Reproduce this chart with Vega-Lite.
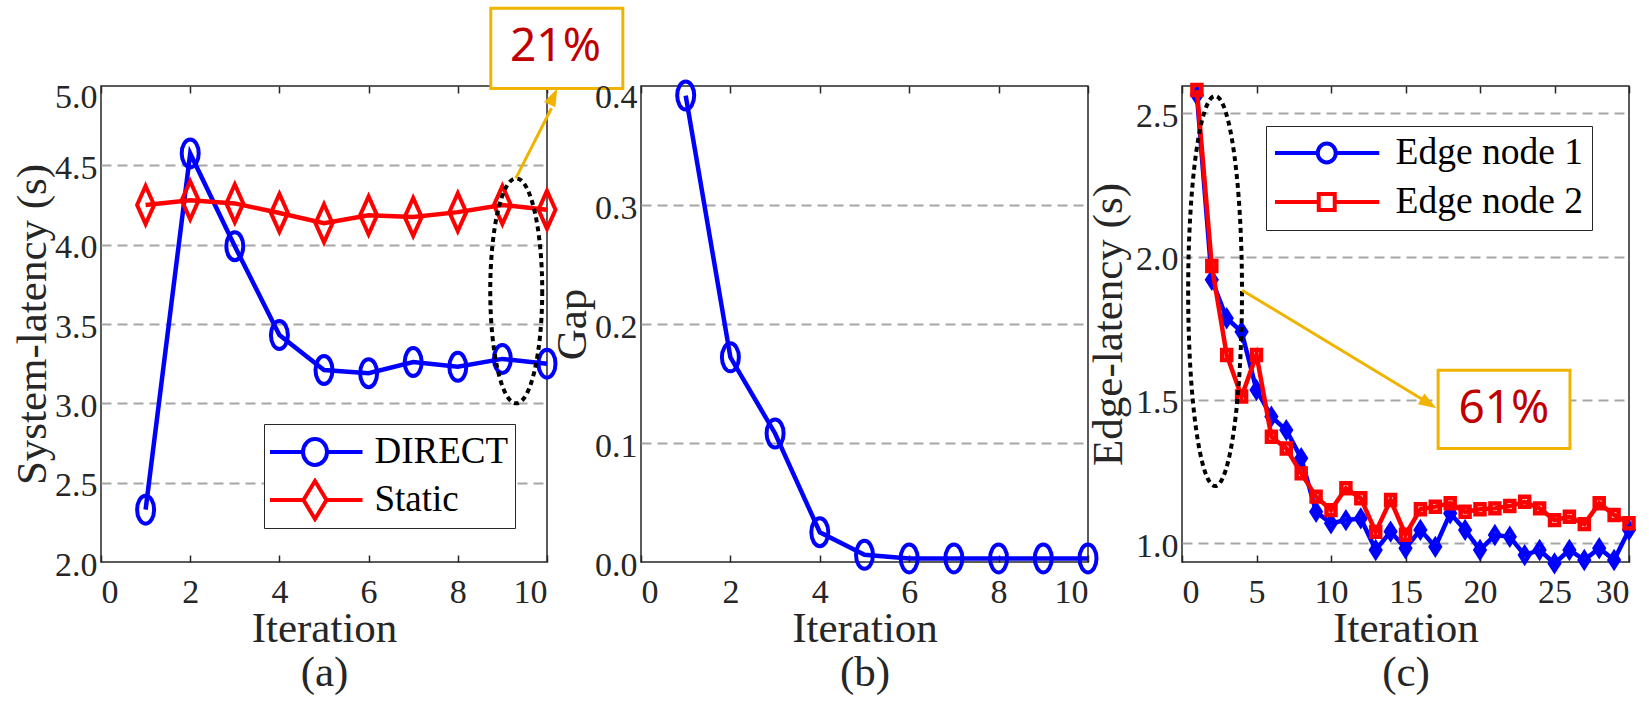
{
  "$schema": "https://vega.github.io/schema/vega-lite/v6.json",
  "background": "#FFFFFF",
  "padding": {"left": 10, "top": 6, "right": 5, "bottom": 5},
  "bounds": "flush",
  "spacing": 94,
  "resolve": {"scale": {"color": "independent"}, "legend": {"color": "independent"}},
  "datasets": {
    "sys": [
      {"iter": 1, "value": 2.33, "series": "DIRECT"},
      {"iter": 2, "value": 4.575, "series": "DIRECT"},
      {"iter": 3, "value": 3.99, "series": "DIRECT"},
      {"iter": 4, "value": 3.43, "series": "DIRECT"},
      {"iter": 5, "value": 3.21, "series": "DIRECT"},
      {"iter": 6, "value": 3.19, "series": "DIRECT"},
      {"iter": 7, "value": 3.26, "series": "DIRECT"},
      {"iter": 8, "value": 3.23, "series": "DIRECT"},
      {"iter": 9, "value": 3.28, "series": "DIRECT"},
      {"iter": 10, "value": 3.25, "series": "DIRECT"},
      {"iter": 1, "value": 4.25, "series": "Static"},
      {"iter": 2, "value": 4.28, "series": "Static"},
      {"iter": 3, "value": 4.26, "series": "Static"},
      {"iter": 4, "value": 4.2, "series": "Static"},
      {"iter": 5, "value": 4.135, "series": "Static"},
      {"iter": 6, "value": 4.185, "series": "Static"},
      {"iter": 7, "value": 4.175, "series": "Static"},
      {"iter": 8, "value": 4.205, "series": "Static"},
      {"iter": 9, "value": 4.25, "series": "Static"},
      {"iter": 10, "value": 4.22, "series": "Static"}
    ],
    "gap": [
      {"iter": 1, "value": 0.392},
      {"iter": 2, "value": 0.172},
      {"iter": 3, "value": 0.108},
      {"iter": 4, "value": 0.025},
      {"iter": 5, "value": 0.006},
      {"iter": 6, "value": 0.003},
      {"iter": 7, "value": 0.003},
      {"iter": 8, "value": 0.003},
      {"iter": 9, "value": 0.003},
      {"iter": 10, "value": 0.003}
    ],
    "edge": [
      {"iter": 1, "value": 2.564, "series": "Edge node 1"},
      {"iter": 2, "value": 1.919, "series": "Edge node 1"},
      {"iter": 3, "value": 1.785, "series": "Edge node 1"},
      {"iter": 4, "value": 1.738, "series": "Edge node 1"},
      {"iter": 5, "value": 1.535, "series": "Edge node 1"},
      {"iter": 6, "value": 1.442, "series": "Edge node 1"},
      {"iter": 7, "value": 1.395, "series": "Edge node 1"},
      {"iter": 8, "value": 1.297, "series": "Edge node 1"},
      {"iter": 9, "value": 1.11, "series": "Edge node 1"},
      {"iter": 10, "value": 1.07, "series": "Edge node 1"},
      {"iter": 11, "value": 1.081, "series": "Edge node 1"},
      {"iter": 12, "value": 1.087, "series": "Edge node 1"},
      {"iter": 13, "value": 0.977, "series": "Edge node 1"},
      {"iter": 14, "value": 1.041, "series": "Edge node 1"},
      {"iter": 15, "value": 0.983, "series": "Edge node 1"},
      {"iter": 16, "value": 1.047, "series": "Edge node 1"},
      {"iter": 17, "value": 0.988, "series": "Edge node 1"},
      {"iter": 18, "value": 1.105, "series": "Edge node 1"},
      {"iter": 19, "value": 1.047, "series": "Edge node 1"},
      {"iter": 20, "value": 0.977, "series": "Edge node 1"},
      {"iter": 21, "value": 1.029, "series": "Edge node 1"},
      {"iter": 22, "value": 1.023, "series": "Edge node 1"},
      {"iter": 23, "value": 0.959, "series": "Edge node 1"},
      {"iter": 24, "value": 0.977, "series": "Edge node 1"},
      {"iter": 25, "value": 0.93, "series": "Edge node 1"},
      {"iter": 26, "value": 0.977, "series": "Edge node 1"},
      {"iter": 27, "value": 0.942, "series": "Edge node 1"},
      {"iter": 28, "value": 0.983, "series": "Edge node 1"},
      {"iter": 29, "value": 0.942, "series": "Edge node 1"},
      {"iter": 30, "value": 1.047, "series": "Edge node 1"},
      {"iter": 1, "value": 2.581, "series": "Edge node 2"},
      {"iter": 2, "value": 1.967, "series": "Edge node 2"},
      {"iter": 3, "value": 1.657, "series": "Edge node 2"},
      {"iter": 4, "value": 1.512, "series": "Edge node 2"},
      {"iter": 5, "value": 1.657, "series": "Edge node 2"},
      {"iter": 6, "value": 1.372, "series": "Edge node 2"},
      {"iter": 7, "value": 1.331, "series": "Edge node 2"},
      {"iter": 8, "value": 1.244, "series": "Edge node 2"},
      {"iter": 9, "value": 1.163, "series": "Edge node 2"},
      {"iter": 10, "value": 1.116, "series": "Edge node 2"},
      {"iter": 11, "value": 1.192, "series": "Edge node 2"},
      {"iter": 12, "value": 1.157, "series": "Edge node 2"},
      {"iter": 13, "value": 1.04, "series": "Edge node 2"},
      {"iter": 14, "value": 1.151, "series": "Edge node 2"},
      {"iter": 15, "value": 1.03, "series": "Edge node 2"},
      {"iter": 16, "value": 1.119, "series": "Edge node 2"},
      {"iter": 17, "value": 1.128, "series": "Edge node 2"},
      {"iter": 18, "value": 1.14, "series": "Edge node 2"},
      {"iter": 19, "value": 1.11, "series": "Edge node 2"},
      {"iter": 20, "value": 1.119, "series": "Edge node 2"},
      {"iter": 21, "value": 1.122, "series": "Edge node 2"},
      {"iter": 22, "value": 1.13, "series": "Edge node 2"},
      {"iter": 23, "value": 1.145, "series": "Edge node 2"},
      {"iter": 24, "value": 1.122, "series": "Edge node 2"},
      {"iter": 25, "value": 1.081, "series": "Edge node 2"},
      {"iter": 26, "value": 1.093, "series": "Edge node 2"},
      {"iter": 27, "value": 1.067, "series": "Edge node 2"},
      {"iter": 28, "value": 1.14, "series": "Edge node 2"},
      {"iter": 29, "value": 1.099, "series": "Edge node 2"},
      {"iter": 30, "value": 1.07, "series": "Edge node 2"}
    ]
  },
  "hconcat": [
    {
      "width": 446,
      "height": 476,
      "resolve": {"axis": {"x": "independent"}},
      "layer": [
        {
          "data": {"name": "sys"},
          "transform": [{"filter": "datum.series == 'DIRECT'"}],
          "mark": {"type": "line", "strokeWidth": 4.5},
          "encoding": {
            "x": {"field": "iter", "type": "quantitative", "scale": {"domain": [0, 10], "nice": false},
              "axis": {"orient": "bottom", "values": [0, 2, 4, 6, 8, 10], "title": ["Iteration", "(a)"]}},
            "y": {"field": "value", "type": "quantitative", "scale": {"domain": [2, 5], "nice": false, "zero": false},
              "axis": {"values": [2, 2.5, 3, 3.5, 4, 4.5, 5], "format": ".1f", "title": "System-latency (s)", "titlePadding": 0,
                "gridOpacity": {"condition": {"test": "datum.value == 2 || datum.value == 5", "value": 0}, "value": 1},
                "labelOffset": {"condition": {"test": "datum.value == 5", "value": 11}, "value": 3}}},
            "color": {"field": "series", "type": "nominal",
              "scale": {"domain": ["DIRECT", "Static"], "range": ["#0000FF", "#FF0000"]},
              "legend": {
                "orient": "none", "legendX": 163, "legendY": 338, "title": null,
                "labelFont": "Liberation Serif", "labelFontSize": 37, "labelColor": "#000000", "labelLimit": 0,
                "symbolSize": 900, "symbolStrokeWidth": 4, "symbolOffset": 26.5, "labelOffset": 41,
                "clipHeight": 44, "padding": 6, "rowPadding": 4, "strokeColor": "#262626", "fillColor": "#FFFFFF",
                "labelExpr": "datum.label == 'Static' ? '\u00a0\u00a0Static' : datum.label",
                "encode": {"symbols": {"update": {
                  "shape": {"signal": "datum.value == 'DIRECT' ? 'M-3.167,0 L-0.8,0 M0.8,0 L3.167,0 M0.8,0 C0.8,0.479 0.442,0.867 0,0.867 C-0.442,0.867 -0.8,0.479 -0.8,0 C-0.8,-0.479 -0.442,-0.867 0,-0.867 C0.442,-0.867 0.8,-0.479 0.8,0 Z' : 'M-3.167,0 L-0.767,0 M0.767,0 L3.167,0 M0,-1.267 L0.767,0 L0,1.267 L-0.767,0 Z'"},
                  "fill": {"value": "transparent"},
                  "stroke": {"signal": "datum.value == 'DIRECT' ? '#0000FF' : '#FF0000'"},
                  "strokeWidth": {"value": 4}}}}
              }}
          }
        },
        {
          "data": {"name": "sys"},
          "transform": [{"filter": "datum.series == 'DIRECT'"}],
          "mark": {"type": "point", "shape": "M0.447,0 C0.447,0.407 0.247,0.737 0,0.737 C-0.247,0.737 -0.447,0.407 -0.447,0 C-0.447,-0.407 -0.247,-0.737 0,-0.737 C0.247,-0.737 0.447,-0.407 0.447,0 Z", "size": 1444, "filled": false, "strokeWidth": 4, "opacity": 1, "color": "#0000FF"},
          "encoding": {
            "x": {"field": "iter", "type": "quantitative", "scale": {"domain": [0, 10], "nice": false}, "axis": null},
            "y": {"field": "value", "type": "quantitative", "scale": {"domain": [2, 5], "nice": false, "zero": false}}
          }
        },
        {
          "data": {"name": "sys"},
          "transform": [{"filter": "datum.series == 'Static'"}],
          "mark": {"type": "line", "strokeWidth": 4.5, "color": "#FF0000"},
          "encoding": {
            "x": {"field": "iter", "type": "quantitative", "scale": {"domain": [0, 10], "nice": false}, "axis": null},
            "y": {"field": "value", "type": "quantitative", "scale": {"domain": [2, 5], "nice": false, "zero": false}}
          }
        },
        {
          "data": {"name": "sys"},
          "transform": [{"filter": "datum.series == 'Static'"}],
          "mark": {"type": "point", "shape": "M0,-1 L0.447,0 L0,1 L-0.447,0 Z", "size": 1444, "filled": false, "strokeWidth": 4, "opacity": 1, "color": "#FF0000"},
          "encoding": {
            "x": {"field": "iter", "type": "quantitative", "scale": {"domain": [0, 10], "nice": false}, "axis": null},
            "y": {"field": "value", "type": "quantitative", "scale": {"domain": [2, 5], "nice": false, "zero": false}}
          }
        },
        {
          "data": {"name": "sys"},
          "mark": {"type": "point", "opacity": 0},
          "encoding": {
            "x": {"field": "iter", "type": "quantitative", "scale": {"domain": [0, 10], "nice": false},
              "axis": {"orient": "top", "values": [0, 2, 4, 6, 8, 10], "labels": false, "title": null}},
            "y": {"field": "value", "type": "quantitative", "scale": {"domain": [2, 5], "nice": false, "zero": false}}
          }
        },
        {
          "data": {"values": [{}]},
          "mark": {"type": "point", "shape": "M0.231,0 C0.231,0.552 0.128,1 0,1 C-0.128,1 -0.231,0.552 -0.231,0 C-0.231,-0.552 -0.128,-1 0,-1 C0.128,-1 0.231,-0.552 0.231,0 Z", "size": 50625, "filled": false, "stroke": "#000000", "strokeWidth": 4, "strokeDash": [5, 4], "opacity": 1},
          "encoding": {
            "x": {"datum": 9.31, "type": "quantitative", "scale": {"domain": [0, 10], "nice": false}, "axis": null},
            "y": {"datum": 3.709, "type": "quantitative", "scale": {"domain": [2, 5], "nice": false, "zero": false}}
          }
        },
        {
          "data": {"values": [{}]},
          "mark": {"type": "rule", "stroke": "#F0B400", "strokeWidth": 3},
          "encoding": {
            "x": {"datum": 9.3, "type": "quantitative", "scale": {"domain": [0, 10], "nice": false}, "axis": null},
            "y": {"datum": 4.418, "type": "quantitative", "scale": {"domain": [2, 5], "nice": false, "zero": false}},
            "x2": {"datum": 10.1},
            "y2": {"datum": 4.86}
          }
        },
        {
          "data": {"values": [{}]},
          "mark": {"type": "point", "shape": "M0,0 L-2,-0.7 L-2,0.7 Z", "size": 324, "filled": true, "color": "#F0B400", "strokeWidth": 0, "opacity": 1, "angle": -65.2},
          "encoding": {
            "x": {"datum": 10.23, "type": "quantitative", "scale": {"domain": [0, 10], "nice": false}, "axis": null},
            "y": {"datum": 4.985, "type": "quantitative", "scale": {"domain": [2, 5], "nice": false, "zero": false}}
          }
        },
        {
          "data": {"values": [{}]},
          "mark": {"type": "rect", "fill": "#FFFFFF", "stroke": "#F0B400", "strokeWidth": 3},
          "encoding": {
            "x": {"datum": 8.74, "type": "quantitative", "scale": {"domain": [0, 10], "nice": false}, "axis": null},
            "x2": {"datum": 11.7},
            "y": {"datum": 5.49, "type": "quantitative", "scale": {"domain": [2, 5], "nice": false, "zero": false}},
            "y2": {"datum": 4.985}
          }
        },
        {
          "data": {"values": [{}]},
          "mark": {"type": "text", "text": "21%", "font": "Noto Sans", "fontSize": 46, "color": "#C00000", "align": "center", "baseline": "middle"},
          "encoding": {
            "x": {"datum": 10.19, "type": "quantitative", "scale": {"domain": [0, 10], "nice": false}, "axis": null},
            "y": {"datum": 5.248, "type": "quantitative", "scale": {"domain": [2, 5], "nice": false, "zero": false}}
          }
        }
      ]
    },
    {
      "width": 447,
      "height": 476,
      "resolve": {"axis": {"x": "independent"}},
      "layer": [
        {
          "data": {"name": "gap"},
          "mark": {"type": "line", "strokeWidth": 4.5, "color": "#0000FF"},
          "encoding": {
            "x": {"field": "iter", "type": "quantitative", "scale": {"domain": [0, 10], "nice": false},
              "axis": {"orient": "bottom", "values": [0, 2, 4, 6, 8, 10], "title": ["Iteration", "(b)"]}},
            "y": {"field": "value", "type": "quantitative", "scale": {"domain": [0, 0.4], "nice": false},
              "axis": {"values": [0, 0.1, 0.2, 0.3, 0.4], "format": ".1f", "title": "Gap", "titlePadding": 0,
                "gridOpacity": {"condition": {"test": "datum.value == 0 || datum.value == 0.4", "value": 0}, "value": 1},
                "labelOffset": {"condition": {"test": "datum.value == 0.4", "value": 11}, "value": 3}}}
          }
        },
        {
          "data": {"name": "gap"},
          "mark": {"type": "point", "shape": "M0.447,0 C0.447,0.407 0.247,0.737 0,0.737 C-0.247,0.737 -0.447,0.407 -0.447,0 C-0.447,-0.407 -0.247,-0.737 0,-0.737 C0.247,-0.737 0.447,-0.407 0.447,0 Z", "size": 1444, "filled": false, "strokeWidth": 4, "opacity": 1, "color": "#0000FF"},
          "encoding": {
            "x": {"field": "iter", "type": "quantitative", "scale": {"domain": [0, 10], "nice": false}, "axis": null},
            "y": {"field": "value", "type": "quantitative", "scale": {"domain": [0, 0.4], "nice": false}}
          }
        },
        {
          "data": {"name": "gap"},
          "mark": {"type": "point", "opacity": 0},
          "encoding": {
            "x": {"field": "iter", "type": "quantitative", "scale": {"domain": [0, 10], "nice": false},
              "axis": {"orient": "top", "values": [0, 2, 4, 6, 8, 10], "labels": false, "title": null}},
            "y": {"field": "value", "type": "quantitative", "scale": {"domain": [0, 0.4], "nice": false}}
          }
        }
      ]
    },
    {
      "width": 447,
      "height": 476,
      "resolve": {"axis": {"x": "independent"}},
      "layer": [
        {
          "data": {"name": "edge"},
          "transform": [{"filter": "datum.series == 'Edge node 1'"}],
          "mark": {"type": "line", "strokeWidth": 4.5},
          "encoding": {
            "x": {"field": "iter", "type": "quantitative", "scale": {"domain": [0, 30], "nice": false},
              "axis": {"orient": "bottom", "values": [0, 5, 10, 15, 20, 25, 30], "title": ["Iteration", "(c)"]}},
            "y": {"field": "value", "type": "quantitative", "scale": {"domain": [0.935, 2.595], "nice": false, "zero": false},
              "axis": {"values": [1, 1.5, 2, 2.5], "format": ".1f", "title": "Edge-latency (s)", "titlePadding": 5, "labelOffset": 3}},
            "color": {"field": "series", "type": "nominal",
              "scale": {"domain": ["Edge node 1", "Edge node 2"], "range": ["#0000FF", "#FF0000"]},
              "legend": {
                "orient": "none", "legendX": 84, "legendY": 40, "title": null,
                "labelFont": "Liberation Serif", "labelFontSize": 37.5, "labelColor": "#000000", "labelLimit": 0,
                "symbolSize": 900, "symbolStrokeWidth": 4, "symbolOffset": 33, "labelOffset": 50,
                "clipHeight": 36, "padding": 9, "rowPadding": 11, "strokeColor": "#262626", "fillColor": "#FFFFFF",
                "encode": {"symbols": {"update": {
                  "shape": {"signal": "datum.value == 'Edge node 1' ? 'M-3.5,0 L-0.6,0 M0.6,0 L3.5,0 M0.6,0 C0.6,0.35 0.331,0.633 0,0.633 C-0.331,0.633 -0.6,0.35 -0.6,0 C-0.6,-0.35 -0.331,-0.633 0,-0.633 C0.331,-0.633 0.6,-0.35 0.6,0 Z' : 'M-3.5,0 L-0.533,0 M0.533,0 L3.5,0 M-0.533,-0.533 L0.533,-0.533 L0.533,0.533 L-0.533,0.533 Z'"},
                  "fill": {"value": "transparent"},
                  "stroke": {"signal": "datum.value == 'Edge node 1' ? '#0000FF' : '#FF0000'"},
                  "strokeWidth": {"value": 4}}}}
              }}
          }
        },
        {
          "data": {"name": "edge"},
          "transform": [{"filter": "datum.series == 'Edge node 1'"}],
          "mark": {"type": "point", "shape": "M0,-1 L0.64,0 L0,1 L-0.64,0 Z", "size": 196, "filled": false, "strokeWidth": 4.5, "opacity": 1, "color": "#0000FF"},
          "encoding": {
            "x": {"field": "iter", "type": "quantitative", "scale": {"domain": [0, 30], "nice": false}, "axis": null},
            "y": {"field": "value", "type": "quantitative", "scale": {"domain": [0.935, 2.595], "nice": false, "zero": false}}
          }
        },
        {
          "data": {"name": "edge"},
          "transform": [{"filter": "datum.series == 'Edge node 2'"}],
          "mark": {"type": "line", "strokeWidth": 4.5, "color": "#FF0000"},
          "encoding": {
            "x": {"field": "iter", "type": "quantitative", "scale": {"domain": [0, 30], "nice": false}, "axis": null},
            "y": {"field": "value", "type": "quantitative", "scale": {"domain": [0.935, 2.595], "nice": false, "zero": false}}
          }
        },
        {
          "data": {"name": "edge"},
          "transform": [{"filter": "datum.series == 'Edge node 2'"}],
          "mark": {"type": "point", "shape": "M-0.64,-0.71 L0.64,-0.71 L0.64,0.71 L-0.64,0.71 Z", "size": 196, "filled": false, "strokeWidth": 4.5, "opacity": 1, "color": "#FF0000"},
          "encoding": {
            "x": {"field": "iter", "type": "quantitative", "scale": {"domain": [0, 30], "nice": false}, "axis": null},
            "y": {"field": "value", "type": "quantitative", "scale": {"domain": [0.935, 2.595], "nice": false, "zero": false}}
          }
        },
        {
          "data": {"name": "edge"},
          "mark": {"type": "point", "opacity": 0},
          "encoding": {
            "x": {"field": "iter", "type": "quantitative", "scale": {"domain": [0, 30], "nice": false},
              "axis": {"orient": "top", "values": [0, 5, 10, 15, 20, 25, 30], "labels": false, "title": null}},
            "y": {"field": "value", "type": "quantitative", "scale": {"domain": [0.935, 2.595], "nice": false, "zero": false}}
          }
        },
        {
          "data": {"values": [{}]},
          "mark": {"type": "point", "shape": "M0.138,0 C0.138,0.552 0.076,1 0,1 C-0.076,1 -0.138,0.552 -0.138,0 C-0.138,-0.552 -0.076,-1 0,-1 C0.076,-1 0.138,-0.552 0.138,0 Z", "size": 152100, "filled": false, "stroke": "#000000", "strokeWidth": 4, "strokeDash": [5, 4], "opacity": 1},
          "encoding": {
            "x": {"datum": 2.22, "type": "quantitative", "scale": {"domain": [0, 30], "nice": false}, "axis": null},
            "y": {"datum": 1.88, "type": "quantitative", "scale": {"domain": [0.935, 2.595], "nice": false, "zero": false}}
          }
        },
        {
          "data": {"values": [{}]},
          "mark": {"type": "rule", "stroke": "#F0B400", "strokeWidth": 3},
          "encoding": {
            "x": {"datum": 4.03, "type": "quantitative", "scale": {"domain": [0, 30], "nice": false}, "axis": null},
            "y": {"datum": 1.883, "type": "quantitative", "scale": {"domain": [0.935, 2.595], "nice": false, "zero": false}},
            "x2": {"datum": 16.2},
            "y2": {"datum": 1.5}
          }
        },
        {
          "data": {"values": [{}]},
          "mark": {"type": "point", "shape": "M0,0 L-2,-0.7 L-2,0.7 Z", "size": 324, "filled": true, "color": "#F0B400", "strokeWidth": 0, "opacity": 1, "angle": 31.3},
          "encoding": {
            "x": {"datum": 17.08, "type": "quantitative", "scale": {"domain": [0, 30], "nice": false}, "axis": null},
            "y": {"datum": 1.471, "type": "quantitative", "scale": {"domain": [0.935, 2.595], "nice": false, "zero": false}}
          }
        },
        {
          "data": {"values": [{}]},
          "mark": {"type": "rect", "fill": "#FFFFFF", "stroke": "#F0B400", "strokeWidth": 3},
          "encoding": {
            "x": {"datum": 17.19, "type": "quantitative", "scale": {"domain": [0, 30], "nice": false}, "axis": null},
            "x2": {"datum": 26.04},
            "y": {"datum": 1.604, "type": "quantitative", "scale": {"domain": [0.935, 2.595], "nice": false, "zero": false}},
            "y2": {"datum": 1.331}
          }
        },
        {
          "data": {"values": [{}]},
          "mark": {"type": "text", "text": "61%", "font": "Noto Sans", "fontSize": 46, "color": "#C00000", "align": "center", "baseline": "middle"},
          "encoding": {
            "x": {"datum": 21.6, "type": "quantitative", "scale": {"domain": [0, 30], "nice": false}, "axis": null},
            "y": {"datum": 1.468, "type": "quantitative", "scale": {"domain": [0.935, 2.595], "nice": false, "zero": false}}
          }
        }
      ]
    }
  ],
  "config": {
    "font": "Liberation Serif",
    "view": {"stroke": "#262626", "strokeWidth": 1.5},
    "axis": {
      "labelFont": "Liberation Serif", "titleFont": "Liberation Serif",
      "labelFontSize": 34, "titleFontSize": 43, "titleFontWeight": "normal",
      "labelColor": "#262626", "titleColor": "#262626", "domain": false
    },
    "axisX": {"grid": false, "tickSize": -7, "tickWidth": 1.5, "tickColor": "#262626", "labelPadding": 20, "labelFlush": true, "titlePadding": -2, "titleLineHeight": 44},
    "axisY": {"ticks": false, "grid": true, "gridColor": "#A6A6A6", "gridDash": [10, 6], "gridWidth": 2, "labelPadding": 4, "labelFlush": false}
  }
}
